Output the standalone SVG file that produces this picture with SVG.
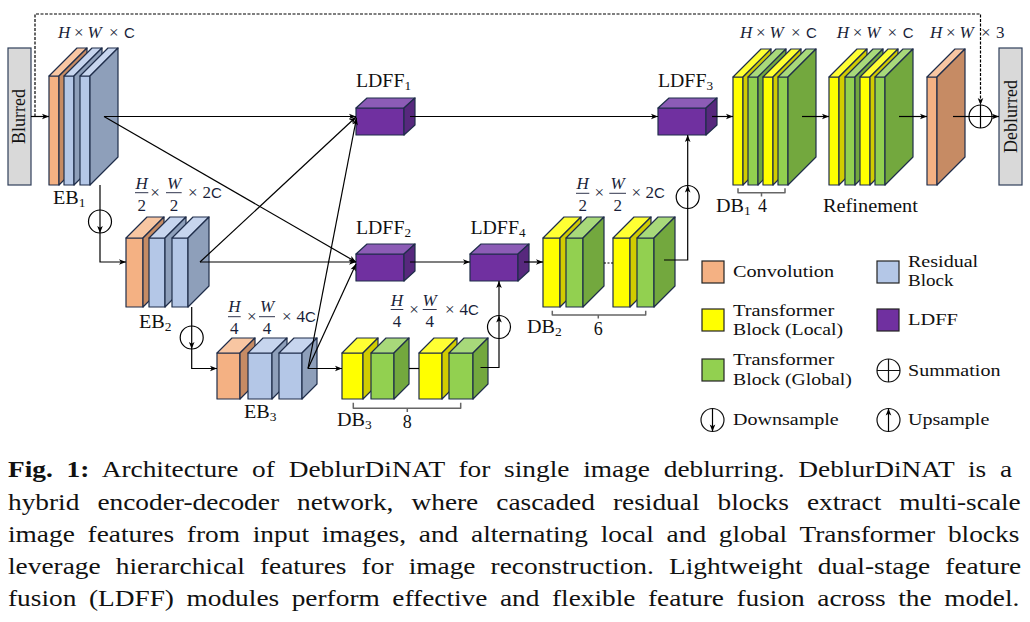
<svg xmlns="http://www.w3.org/2000/svg" width="1030" height="622" viewBox="0 0 1030 622">
<defs>
<marker id="ah" viewBox="0 0 10 10" refX="10" refY="5" markerWidth="9" markerHeight="7" orient="auto" markerUnits="userSpaceOnUse"><path d="M0,1 L10,5 L0,9 L2.5,5 z" fill="#000"/></marker>
<style>
.s{stroke:#1f2d4a;stroke-width:1.2;stroke-linejoin:round}
.cf{fill:#f4b183}.ct{fill:#f8c6a2}.cs{fill:#c68b64}
.rf{fill:#b4c7e7}.rt{fill:#c7d5ee}.rs{fill:#8e9fba}
.yf{fill:#ffff00}.yt{fill:#ffff33}.ys{fill:#d1cc00}
.gf{fill:#92d050}.gt{fill:#a8d97a}.gs{fill:#73a83e}
.lf{fill:#7030a0}.lt{fill:#8c5cb6}.ls{fill:#57287d}
.ln{fill:none;stroke:#000;stroke-width:1.2}
.ar{marker-end:url(#ah)}
.t{font-family:"Liberation Serif",serif;fill:#111}
.lab{font-family:"Liberation Serif",serif;font-size:18px;fill:#111}
.m{font-family:"Liberation Serif",serif;font-size:17px;fill:#1a1f3a}
.i{font-style:italic}
.sans{font-family:"Liberation Sans",sans-serif;font-size:15px}
.br{fill:none;stroke:#666;stroke-width:1.5;stroke-linejoin:round}
.sym{fill:none;stroke:#111;stroke-width:1.2}
</style>
</defs>
<rect width="1030" height="622" fill="#fff"/>

<!-- Caption -->
<g id="caption" font-family="'Liberation Serif', serif" font-size="24" fill="#111">
<text font-family="'Liberation Serif', serif" transform="translate(8,477) scale(1.14,1)" word-spacing="6.1"><tspan font-weight="bold">Fig. 1:</tspan> Architecture of DeblurDiNAT for single image deblurring. DeblurDiNAT is a</text>
<text font-family="'Liberation Serif', serif" transform="translate(8,509.5) scale(1.14,1)" word-spacing="9.8">hybrid encoder-decoder network, where cascaded residual blocks extract multi-scale</text>
<text font-family="'Liberation Serif', serif" transform="translate(8,541.5) scale(1.14,1)" word-spacing="5.2">image features from input images, and alternating local and global Transformer blocks</text>
<text font-family="'Liberation Serif', serif" transform="translate(8,573.5) scale(1.14,1)" word-spacing="7.3">leverage hierarchical features for image reconstruction. Lightweight dual-stage feature</text>
<text font-family="'Liberation Serif', serif" transform="translate(8,605.5) scale(1.14,1)" word-spacing="5.0">fusion (LDFF) modules perform effective and flexible feature fusion across the model.</text>
</g>

<!-- Legend -->
<g id="legend" font-family="'Liberation Serif', serif" font-size="17" fill="#111">
<rect class="cf" x="702" y="261" width="22" height="22" stroke="#222" stroke-width="1.2"/>
<text font-family="'Liberation Serif', serif" transform="translate(733,277) scale(1.19,1)">Convolution</text>
<rect class="rf" x="877" y="261" width="22" height="22" stroke="#222" stroke-width="1.2"/>
<text font-family="'Liberation Serif', serif" transform="translate(908,267) scale(1.18,1)">Residual</text>
<text font-family="'Liberation Serif', serif" transform="translate(908,286) scale(1.12,1)">Block</text>
<rect class="yf" x="702" y="309" width="22" height="22" stroke="#222" stroke-width="1.2"/>
<text font-family="'Liberation Serif', serif" transform="translate(733,316) scale(1.2,1)">Transformer</text>
<text font-family="'Liberation Serif', serif" transform="translate(733,335) scale(1.16,1)">Block (Local)</text>
<rect class="lf" x="877" y="309" width="22" height="22" stroke="#222" stroke-width="1.2"/>
<text font-family="'Liberation Serif', serif" transform="translate(908,325) scale(1.2,1)">LDFF</text>
<rect class="gf" x="702" y="359" width="22" height="22" stroke="#222" stroke-width="1.2"/>
<text font-family="'Liberation Serif', serif" transform="translate(733,365) scale(1.2,1)">Transformer</text>
<text font-family="'Liberation Serif', serif" transform="translate(733,385) scale(1.16,1)">Block (Global)</text>
<circle class="sym" cx="888.5" cy="370.5" r="11.5"/>
<path class="sym" d="M877,370.5 H900 M888.5,359 V382"/>
<text font-family="'Liberation Serif', serif" transform="translate(908,376) scale(1.18,1)">Summation</text>
<circle class="sym" cx="712.5" cy="420" r="11.5"/>
<path class="ln ar" d="M712.5,408.5 V431.5"/>
<text font-family="'Liberation Serif', serif" transform="translate(733,425) scale(1.18,1)">Downsample</text>
<circle class="sym" cx="888.5" cy="420" r="11.5"/>
<path class="ln ar" d="M888.5,431.5 V408.5"/>
<text font-family="'Liberation Serif', serif" transform="translate(908,425) scale(1.18,1)">Upsample</text>
</g>

<!-- Input / output boxes -->
<g id="blurred">
<rect x="8" y="48" width="23" height="137" fill="#d9d9d9" stroke="#2f3f5a" stroke-width="1.2"/>
<text class="t" font-size="18" transform="translate(25,116.5) rotate(-90)" text-anchor="middle">Blurred</text>
</g>
<g id="deblurred">
<rect x="999" y="48" width="23" height="137" fill="#d9d9d9" stroke="#2f3f5a" stroke-width="1.2"/>
<text class="t" font-size="18" transform="translate(1016.5,116.5) rotate(-90)" text-anchor="middle">Deblurred</text>
</g>

<!-- EB1 -->
<g id="eb1">
<rect class="cf s" x="49" y="76" width="10" height="109"/><polygon class="ct s" points="49,76 77,48 87,48 59,76"/><polygon class="cs s" points="59,76 87,48 87,157 59,185"/>
<rect class="rf s" x="64" y="76" width="10" height="109"/><polygon class="rt s" points="64,76 92,48 102,48 74,76"/><polygon class="rs s" points="74,76 102,48 102,157 74,185"/>
<rect class="rf s" x="80" y="76" width="10" height="109"/><polygon class="rt s" points="80,76 108,48 118,48 90,76"/><polygon class="rs s" points="90,76 118,48 118,157 90,185"/>
</g>
<g id="eb1-labels">
<text class="m" y="38"><tspan class="i" x="58">H</tspan><tspan x="74">×</tspan><tspan class="i" x="87.5">W</tspan><tspan x="109">×</tspan><tspan class="sans" x="124">C</tspan></text>
<text class="lab" transform="translate(53,204) scale(1.12,1)">EB<tspan font-size="12" dy="3">1</tspan></text>
</g>

<!-- EB2 -->
<g id="eb2">
<rect class="cf s" x="126" y="238" width="17" height="69"/><polygon class="ct s" points="126,238 147,217 164,217 143,238"/><polygon class="cs s" points="143,238 164,217 164,286 143,307"/>
<rect class="rf s" x="149" y="238" width="16" height="69"/><polygon class="rt s" points="149,238 170,217 186,217 165,238"/><polygon class="rs s" points="165,238 186,217 186,286 165,307"/>
<rect class="rf s" x="172" y="238" width="16" height="69"/><polygon class="rt s" points="172,238 193,217 209,217 188,238"/><polygon class="rs s" points="188,238 209,217 209,286 188,307"/>
</g>
<g id="eb2-labels">
<text class="m i" x="141.7" y="188.5" text-anchor="middle">H</text><line x1="135" y1="192.7" x2="148.3" y2="192.7" stroke="#1a1f3a" stroke-width="0.9"/><text class="m" x="141.7" y="210.5" text-anchor="middle">2</text>
<text class="m" x="155" y="197.5" text-anchor="middle">×</text>
<text class="m i" x="174" y="188.5" text-anchor="middle">W</text><line x1="166" y1="192.7" x2="181.7" y2="192.7" stroke="#1a1f3a" stroke-width="0.9"/><text class="m" x="174" y="210.5" text-anchor="middle">2</text>
<text class="m" y="197.5"><tspan x="188">×</tspan><tspan x="202.5">2</tspan><tspan class="sans">C</tspan></text>
<text class="lab" transform="translate(139,328) scale(1.12,1)">EB<tspan font-size="12" dy="3">2</tspan></text>
</g>

<!-- EB3 -->
<g id="eb3">
<rect class="cf s" x="217" y="353" width="23" height="46"/><polygon class="ct s" points="217,353 232,338 255,338 240,353"/><polygon class="cs s" points="240,353 255,338 255,384 240,399"/>
<rect class="rf s" x="248" y="353" width="24" height="46"/><polygon class="rt s" points="248,353 263,338 287,338 272,353"/><polygon class="rs s" points="272,353 287,338 287,384 272,399"/>
<rect class="rf s" x="279" y="353" width="23" height="46"/><polygon class="rt s" points="279,353 294,338 317,338 302,353"/><polygon class="rs s" points="302,353 317,338 317,384 302,399"/>
</g>
<g id="eb3-labels">
<text class="m i" x="234.3" y="312" text-anchor="middle">H</text><line x1="228" y1="316.7" x2="240.7" y2="316.7" stroke="#1a1f3a" stroke-width="0.9"/><text class="m" x="234.3" y="334" text-anchor="middle">4</text>
<text class="m" x="251.7" y="321.5" text-anchor="middle">×</text>
<text class="m i" x="267" y="312" text-anchor="middle">W</text><line x1="259" y1="316.7" x2="275" y2="316.7" stroke="#1a1f3a" stroke-width="0.9"/><text class="m" x="267" y="334" text-anchor="middle">4</text>
<text class="m" y="321.5"><tspan x="282">×</tspan><tspan x="296.5">4</tspan><tspan class="sans">C</tspan></text>
<text class="lab" transform="translate(244,418) scale(1.12,1)">EB<tspan font-size="12" dy="3">3</tspan></text>
</g>

<!-- DB3 -->
<g id="db3">
<rect class="yf s" x="342" y="353" width="21" height="46"/><polygon class="yt s" points="342,353 357,338 378,338 363,353"/><polygon class="ys s" points="363,353 378,338 378,384 363,399"/>
<rect class="gf s" x="371" y="353" width="23" height="46"/><polygon class="gt s" points="371,353 386,338 409,338 394,353"/><polygon class="gs s" points="394,353 409,338 409,384 394,399"/>
<rect class="yf s" x="419" y="353" width="23" height="46"/><polygon class="yt s" points="419,353 434,338 457,338 442,353"/><polygon class="ys s" points="442,353 457,338 457,384 442,399"/>
<rect class="gf s" x="449" y="353" width="24" height="46"/><polygon class="gt s" points="449,353 464,338 488,338 473,353"/><polygon class="gs s" points="473,353 488,338 488,384 473,399"/>
</g>
<g id="db3-labels">
<text class="m i" x="397" y="305.5" text-anchor="middle">H</text><line x1="390.7" y1="309.5" x2="403.3" y2="309.5" stroke="#1a1f3a" stroke-width="0.9"/><text class="m" x="397" y="326.5" text-anchor="middle">4</text>
<text class="m" x="414" y="314.5" text-anchor="middle">×</text>
<text class="m i" x="429.7" y="305.5" text-anchor="middle">W</text><line x1="422.7" y1="309.5" x2="436.7" y2="309.5" stroke="#1a1f3a" stroke-width="0.9"/><text class="m" x="429.7" y="326.5" text-anchor="middle">4</text>
<text class="m" y="314.5"><tspan x="445">×</tspan><tspan x="459.5">4</tspan><tspan class="sans">C</tspan></text>
<path class="br" d="M353.3,402.7 V408.3 H460.7 V402.7 M407.3,408.3 V412"/>
<text class="lab" transform="translate(337,426) scale(1.12,1)">DB<tspan font-size="12" dy="3">3</tspan></text>
<text class="lab" x="407.3" y="428" text-anchor="middle">8</text>
</g>

<!-- DB2 -->
<g id="db2">
<rect class="yf s" x="543" y="238" width="17" height="69"/><polygon class="yt s" points="543,238 564,217 581,217 560,238"/><polygon class="ys s" points="560,238 581,217 581,286 560,307"/>
<rect class="gf s" x="566" y="238" width="17" height="69"/><polygon class="gt s" points="566,238 587,217 604,217 583,238"/><polygon class="gs s" points="583,238 604,217 604,286 583,307"/>
<rect class="yf s" x="613" y="238" width="17" height="69"/><polygon class="yt s" points="613,238 634,217 651,217 630,238"/><polygon class="ys s" points="630,238 651,217 651,286 630,307"/>
<rect class="gf s" x="637" y="238" width="17" height="69"/><polygon class="gt s" points="637,238 658,217 675,217 654,238"/><polygon class="gs s" points="654,238 675,217 675,286 654,307"/>
</g>
<g id="db2-labels">
<text class="m i" x="582.7" y="188.5" text-anchor="middle">H</text><line x1="576" y1="193.3" x2="589.3" y2="193.3" stroke="#1a1f3a" stroke-width="0.9"/><text class="m" x="582.7" y="210.5" text-anchor="middle">2</text>
<text class="m" x="599.3" y="198" text-anchor="middle">×</text>
<text class="m i" x="617.7" y="188.5" text-anchor="middle">W</text><line x1="609.3" y1="193.3" x2="626" y2="193.3" stroke="#1a1f3a" stroke-width="0.9"/><text class="m" x="617.7" y="210.5" text-anchor="middle">2</text>
<text class="m" y="198"><tspan x="631.5">×</tspan><tspan x="645.5">2</tspan><tspan class="sans">C</tspan></text>
<path class="br" d="M552.3,310.7 V315 H645.7 V310.7 M598.3,315 V318.5"/>
<text class="lab" transform="translate(527,333) scale(1.12,1)">DB<tspan font-size="12" dy="3">2</tspan></text>
<text class="lab" x="598.3" y="335" text-anchor="middle">6</text>
</g>

<!-- LDFF blocks -->
<g id="ldff1">
<rect class="lf s" x="356" y="108" width="48" height="27"/><polygon class="lt s" points="356,108 367,98 415,98 404,108"/><polygon class="ls s" points="404,108 415,98 415,125 404,135"/>
<text class="lab" transform="translate(356,87) scale(1.1,1)">LDFF<tspan font-size="12" dy="3">1</tspan></text>
</g>
<g id="ldff2">
<rect class="lf s" x="356" y="254" width="48" height="27"/><polygon class="lt s" points="356,254 367,244 415,244 404,254"/><polygon class="ls s" points="404,254 415,244 415,271 404,281"/>
<text class="lab" transform="translate(356,234) scale(1.1,1)">LDFF<tspan font-size="12" dy="3">2</tspan></text>
</g>
<g id="ldff4">
<rect class="lf s" x="470" y="254" width="48" height="27"/><polygon class="lt s" points="470,254 481,244 529,244 518,254"/><polygon class="ls s" points="518,254 529,244 529,271 518,281"/>
<text class="lab" transform="translate(470.5,234) scale(1.1,1)">LDFF<tspan font-size="12" dy="3">4</tspan></text>
</g>
<g id="ldff3">
<rect class="lf s" x="658" y="108" width="48" height="27"/><polygon class="lt s" points="658,108 669,98 717,98 706,108"/><polygon class="ls s" points="706,108 717,98 717,125 706,135"/>
<text class="lab" transform="translate(658,87) scale(1.1,1)">LDFF<tspan font-size="12" dy="3">3</tspan></text>
</g>

<!-- DB1 -->
<g id="db1">
<rect class="yf s" x="733" y="77" width="10" height="108"/><polygon class="yt s" points="733,77 761,49 771,49 743,77"/><polygon class="ys s" points="743,77 771,49 771,157 743,185"/>
<rect class="gf s" x="748" y="77" width="10" height="108"/><polygon class="gt s" points="748,77 776,49 786,49 758,77"/><polygon class="gs s" points="758,77 786,49 786,157 758,185"/>
<rect class="yf s" x="763" y="77" width="10" height="108"/><polygon class="yt s" points="763,77 791,49 801,49 773,77"/><polygon class="ys s" points="773,77 801,49 801,157 773,185"/>
<rect class="gf s" x="778" y="77" width="10" height="108"/><polygon class="gt s" points="778,77 806,49 816,49 788,77"/><polygon class="gs s" points="788,77 816,49 816,157 788,185"/>
</g>
<g id="db1-labels">
<text class="m" y="38"><tspan class="i" x="740">H</tspan><tspan x="756">×</tspan><tspan class="i" x="769.5">W</tspan><tspan x="791">×</tspan><tspan class="sans" x="806">C</tspan></text>
<path class="br" d="M738,188.3 V192.7 H785 V188.3 M761.5,192.7 V196.5"/>
<text class="lab" transform="translate(716,212) scale(1.12,1)">DB<tspan font-size="12" dy="3">1</tspan></text>
<text class="lab" x="758" y="212">4</text>
</g>

<!-- Refinement -->
<g id="refinement">
<rect class="yf s" x="829" y="77" width="10" height="108"/><polygon class="yt s" points="829,77 857,49 867,49 839,77"/><polygon class="ys s" points="839,77 867,49 867,157 839,185"/>
<rect class="gf s" x="845" y="77" width="10" height="108"/><polygon class="gt s" points="845,77 873,49 883,49 855,77"/><polygon class="gs s" points="855,77 883,49 883,157 855,185"/>
<rect class="yf s" x="860" y="77" width="10" height="108"/><polygon class="yt s" points="860,77 888,49 898,49 870,77"/><polygon class="ys s" points="870,77 898,49 898,157 870,185"/>
<rect class="gf s" x="875" y="77" width="10" height="108"/><polygon class="gt s" points="875,77 903,49 913,49 885,77"/><polygon class="gs s" points="885,77 913,49 913,157 885,185"/>
<text class="m" y="38"><tspan class="i" x="836.7">H</tspan><tspan x="852.7">×</tspan><tspan class="i" x="866.2">W</tspan><tspan x="887.5">×</tspan><tspan class="sans" x="902.7">C</tspan></text>
<text class="lab" transform="translate(823,212) scale(1.13,1)">Refinement</text>
</g>

<!-- Final conv -->
<g id="final-conv">
<rect class="cf s" x="927" y="77" width="10" height="108"/><polygon class="ct s" points="927,77 955,49 965,49 937,77"/><polygon class="cs s" points="937,77 965,49 965,157 937,185"/>
<text class="m" y="38"><tspan class="i" x="930">H</tspan><tspan x="946">×</tspan><tspan class="i" x="959.5">W</tspan><tspan x="981">×</tspan><tspan x="996">3</tspan></text>
</g>

<!-- Summation -->
<g id="sum">
<circle cx="980.5" cy="116.5" r="11.5" fill="#fff" stroke="#000" stroke-width="1.2"/>
<path d="M969,116.5 H992 M980.5,105 V128" stroke="#000" stroke-width="1.2"/>
</g>

<!-- Connectors -->
<g id="connectors">
<path class="ln ar" d="M31,116.5 H49"/>
<path class="ln ar" d="M35,116.5 V14 H980.5 V105" stroke-dasharray="3 1.5"/>
<path class="ln ar" d="M104,116.5 H356"/>
<path class="ln ar" d="M104,116.5 L356,262"/>
<path class="ln ar" d="M100,185 V233"/>
<circle cx="100" cy="221.5" r="11.5" fill="none" stroke="#000" stroke-width="1.2"/>
<path class="ln ar" d="M100,233 V262 H126"/>
<path class="ln ar" d="M200,262 H356"/>
<path class="ln ar" d="M200,262 L356,117"/>
<path class="ln ar" d="M191.7,307 V349"/>
<circle cx="191.7" cy="337.5" r="11.5" fill="none" stroke="#000" stroke-width="1.2"/>
<path class="ln ar" d="M191.7,349 V368.5 H217"/>
<path class="ln ar" d="M308,368.5 H342"/>
<path class="ln ar" d="M308,368.5 L356.5,118"/>
<path class="ln ar" d="M308,368.5 L356,264"/>
<path class="ln" d="M409,368.5 H419"/>
<path class="ln ar" d="M480.5,367.5 H499 V315.5"/>
<circle cx="499" cy="327" r="11.5" fill="none" stroke="#000" stroke-width="1.2"/>
<path class="ln ar" d="M499,315.5 V281"/>
<path class="ln ar" d="M410,262 H470"/>
<path class="ln ar" d="M524,262 H543"/>
<path class="ln" d="M604,263 H613" stroke-dasharray="2 1.5"/>
<path class="ln ar" d="M664,260 H687.7 V185.5"/>
<circle cx="687.7" cy="197" r="11.5" fill="none" stroke="#000" stroke-width="1.2"/>
<path class="ln ar" d="M687.7,185.5 V135"/>
<path class="ln ar" d="M410,116.5 H658"/>
<path class="ln ar" d="M712,116.5 H733"/>
<path class="ln ar" d="M802,116.5 H829"/>
<path class="ln ar" d="M899,116.5 H927"/>
<path class="ln" d="M953,116.5 H969"/>
<path class="ln ar" d="M992,116.5 H999"/>
</g>
</svg>
